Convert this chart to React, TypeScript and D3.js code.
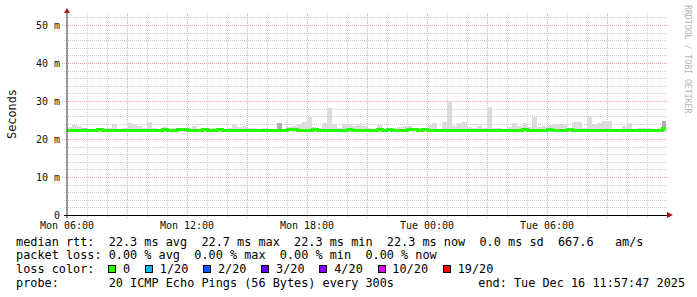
import React from 'react';
import * as d3 from 'd3';

const W = 697;
const H = 297;
const START = new Date(2025, 11, 15, 6, 0, 0);
const END = new Date(2025, 11, 16, 12, 0, 0);
const BIN_MIN = 15;

const yTicks = [0, 10, 20, 30, 40, 50];
const yTickLabels = ['0', '10 m', '20 m', '30 m', '40 m', '50 m'];
const xTickLabels = ['Mon 06:00', 'Mon 12:00', 'Mon 18:00', 'Tue 00:00', 'Tue 06:00'];

// smoke upper edge (ms) per 15-minute bin, from Mon 06:00
const smokeTop = [
  23.2, 23.6, 23.5, 22.9, 22.5, 22.5, 22.6, 23.0, 22.9, 23.9, 22.6, 22.9, 24.2, 24.0, 23.5,
  22.9, 24.5, 22.8, 22.6, 23.1, 22.7, 23.0, 22.8, 22.5, 22.8, 23.3, 22.5, 22.6, 22.8, 22.8,
  22.9, 22.6, 23.0, 23.9, 23.2, 23.5, 22.9, 23.0, 22.6, 23.0, 22.5, 22.6, 24.2, 22.7, 23.2,
  23.4, 24.0, 24.5, 25.9, 23.2, 23.0, 24.1, 28.1, 23.9, 23.0, 24.0, 24.0, 23.4, 23.7, 23.3,
  23.0, 22.6, 23.7, 22.6, 22.6, 22.8, 23.1, 23.5, 23.3, 22.9, 22.8, 22.8, 23.6, 24.1, 22.5,
  24.5, 30.0, 23.4, 24.2, 24.5, 23.2, 22.8, 23.3, 22.9, 28.5, 22.8, 22.8, 22.5, 23.2, 24.1,
  23.4, 24.1, 23.2, 25.9, 23.2, 23.3, 23.7, 24.0, 23.9, 23.6, 23.0, 24.5, 24.5, 23.0, 25.9,
  24.0, 24.1, 24.7, 24.7, 22.6, 22.5, 23.5, 24.1, 22.6, 22.8, 22.8, 22.8, 22.6, 22.8, 24.8,
];
const smokeBottom = 22.0;
const darkBins = [3, 41, 42, 119];

// median rtt (ms) per 15-minute bin
const median = [
  22.3, 22.3, 22.3, 22.3, 22.3, 22.3, 22.55, 22.3, 22.3, 22.3, 22.3, 22.3, 22.3, 22.3, 22.3,
  22.3, 22.3, 22.3, 22.3, 22.55, 22.3, 22.3, 22.55, 22.55, 22.3, 22.3, 22.3, 22.55, 22.3, 22.3,
  22.55, 22.3, 22.3, 22.3, 22.3, 22.3, 22.3, 22.3, 22.3, 22.3, 22.3, 22.3, 22.3, 22.3, 22.55,
  22.55, 22.3, 22.3, 22.3, 22.55, 22.3, 22.3, 22.3, 22.3, 22.3, 22.3, 22.55, 22.3, 22.3, 22.3,
  22.3, 22.3, 22.55, 22.3, 22.55, 22.3, 22.3, 22.3, 22.55, 22.55, 22.3, 22.55, 22.3, 22.3, 22.3,
  22.3, 22.3, 22.3, 22.3, 22.3, 22.3, 22.3, 22.3, 22.3, 22.3, 22.3, 22.3, 22.3, 22.3, 22.3,
  22.3, 22.55, 22.3, 22.3, 22.3, 22.3, 22.55, 22.3, 22.3, 22.3, 22.55, 22.3, 22.3, 22.3, 22.3,
  22.3, 22.3, 22.3, 22.3, 22.3, 22.3, 22.3, 22.3, 22.3, 22.3, 22.3, 22.3, 22.3, 22.3, 22.8,
];

const lossLabels = ['0', '1/20', '2/20', '3/20', '4/20', '10/20', '19/20'];
const lossColors = ['#26ff00', '#00b8ff', '#0059ff', '#5e00ff', '#7e00ff', '#dd00ff', '#ff0000'];

const legendLine1 = 'median rtt:  22.3 ms avg  22.7 ms max  22.3 ms min  22.3 ms now  0.0 ms sd  667.6   am/s';
const legendLine2 = 'packet loss: 0.00 % avg  0.00 % max  0.00 % min  0.00 % now';
const legendLine3Label = 'loss color:';
const legendLine4 = 'probe:       20 ICMP Echo Pings (56 Bytes) every 300s';
const legendEnd = 'end: Tue Dec 16 11:57:47 2025';
const yAxisTitle = 'Seconds';
const watermark = 'RRDTOOL / TOBI OETIKER';

const MONO = '"DejaVu Sans Mono", monospace';
const FS = 11.85;
const CW = FS * 0.602;

export default function App() {
  const x = d3.scaleTime().domain([START, END]).range([67, 667]);
  const y = d3.scaleLinear().domain([0, 50]).range([215, 25]);
  const plotTop = 14;

  const minorGridY = d3.range(2, 53, 2).filter((v) => v % 10 !== 0);
  const majorGridY = d3.range(10, 51, 10);
  const hours = d3.timeHour.range(d3.timeHour.offset(START, 1), END);
  const majorX = hours.filter((d) => d.getHours() % 3 === 0);
  const minorX = hours.filter((d) => d.getHours() % 3 !== 0);
  const labelTimes = d3.timeHour.every(6)!.range(START, END);
  const fmt = d3.timeFormat('%a %H:%M');

  const binStart = (i: number) => d3.timeMinute.offset(START, i * BIN_MIN);
  const lastT = new Date(2025, 11, 16, 11, 57, 47);
  const binEnd = (i: number) => {
    const e = binStart(i + 1);
    return e > lastT ? lastT : e;
  };

  const medPts: [number, number][] = median.map((v, i) => [Math.round(x(binStart(i))), Math.round(y(v)) + 0.5]);
  medPts.push([Math.round(x(lastT)), Math.round(y(median[median.length - 1])) + 0.5]);
  const medLine = d3.line().curve(d3.curveStepAfter)(medPts) || '';

  // legend boxes
  const lossItems: { bx: number; tx: number; label: string; color: string }[] = [];
  let bx = 108.3;
  lossLabels.forEach((lab, i) => {
    const tx = bx + 14.8;
    lossItems.push({ bx, tx, label: lab, color: lossColors[i] });
    bx = tx + lab.length * CW + 14.8;
  });

  return (
    <svg
      width={W}
      height={H}
      style={{ position: 'absolute', left: 0, top: 0, background: '#fff' }}
      fontFamily={MONO}
    >
      <rect x={0} y={0} width={W} height={H} fill="#fff" />
      {/* minor grid */}
      {minorGridY.map((v) => (
        <line key={'mg' + v} x1={64} x2={668} y1={Math.round(y(v)) + 0.5} y2={Math.round(y(v)) + 0.5}
          stroke="#cccccc" strokeDasharray="1,1" />
      ))}
      {minorX.map((d) => (
        <line key={'mx' + d.getTime()} x1={Math.round(x(d)) + 0.5} x2={Math.round(x(d)) + 0.5} y1={plotTop} y2={218}
          stroke="#cccccc" strokeDasharray="1,1" />
      ))}
      {/* major grid */}
      {majorGridY.map((v) => (
        <line key={'Mg' + v} x1={62} x2={668} y1={Math.round(y(v)) + 0.5} y2={Math.round(y(v)) + 0.5}
          stroke="#eba3a3" strokeDasharray="1,1" />
      ))}
      {majorX.map((d) => (
        <line key={'Mx' + d.getTime()} x1={Math.round(x(d)) + 0.5} x2={Math.round(x(d)) + 0.5} y1={plotTop - 1} y2={218}
          stroke="#eba3a3" strokeDasharray="1,1" />
      ))}
      {/* smoke */}
      {smokeTop.map((v, i) => {
        const x0 = x(binStart(i));
        const x1 = x(binEnd(i));
        if (x1 <= x0) return null;
        return (
          <rect key={'s' + i} x={x0} y={y(v)} width={x1 - x0} height={y(smokeBottom) - y(v)}
            fill={darkBins.includes(i) ? '#b0b0b0' : '#dcdcdc'} shapeRendering="crispEdges" />
        );
      })}
      {/* median */}
      <path d={medLine} fill="none" stroke="#26ff00" strokeWidth={3} shapeRendering="crispEdges" />
      {/* axes */}
      <line x1={67} x2={67} y1={218} y2={12} stroke="#333" strokeWidth={1} />
      <line x1={64} x2={669} y1={215.5} y2={215.5} stroke="#000" strokeWidth={1} />
      <path d="M64,13 L70,13 L67,8 Z" fill="#a01818" />
      <path d="M667,212 L667,218 L673,215 Z" fill="#a01818" />
      {/* y tick labels */}
      {yTicks.map((v, i) => (
        <text key={'yt' + v} x={60} y={y(v) + 3.7} textAnchor="end" fontSize={10} fill="#111">
          {yTickLabels[i]}
        </text>
      ))}
      {/* x tick labels */}
      {labelTimes.map((d, i) => (
        <text key={'xt' + i} x={x(d)} y={228.5} textAnchor="middle" fontSize={10} fill="#111">
          {xTickLabels[i] ?? fmt(d)}
        </text>
      ))}
      {/* axis title */}
      <text transform="translate(15.5,114) rotate(-90)" textAnchor="middle" fontSize={FS} fill="#111">
        {yAxisTitle}
      </text>
      {/* watermark */}
      <text transform="translate(685,5) rotate(90)" fontSize={8.2} fill="#b4b4b4">
        {watermark}
      </text>
      {/* legend */}
      <g fontSize={FS} fill="#000" style={{ whiteSpace: 'pre' }}>
        <text x={16} y={245.7} xmlSpace="preserve">{legendLine1}</text>
        <text x={16} y={259.4} xmlSpace="preserve">{legendLine2}</text>
        <text x={16} y={273.1}>{legendLine3Label}</text>
        {lossItems.map((it) => (
          <g key={it.label}>
            <rect x={Math.round(it.bx) + 0.5} y={265.5} width={7} height={7} fill={it.color} stroke="#000" />
            <text x={it.tx} y={273.1}>{it.label}</text>
          </g>
        ))}
        <text x={16} y={286.8} xmlSpace="preserve">{legendLine4}</text>
        <text x={478.3} y={286.8}>{legendEnd}</text>
      </g>
    </svg>
  );
}
